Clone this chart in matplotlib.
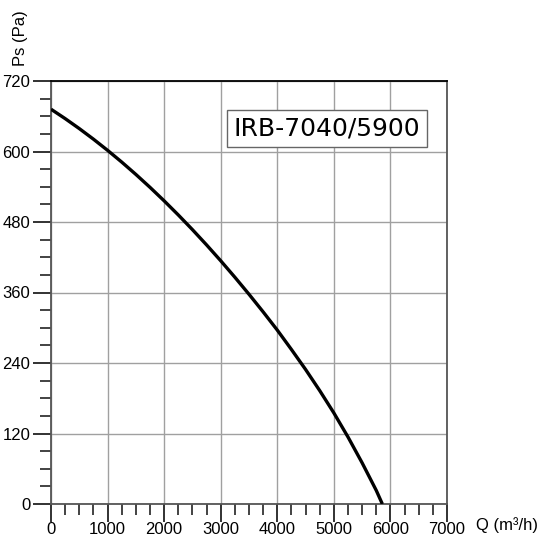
import numpy as np
import matplotlib.pyplot as plt
from matplotlib.ticker import MultipleLocator

# curve
q = [0, 250, 500, 750, 1000, 1250, 1500, 1750, 2000, 2250, 2500, 2750, 3000,
     3250, 3500, 3750, 4000, 4250, 4500, 4750, 5000, 5250, 5500, 5750, 5857]
ps = [672, 656, 639, 621, 602, 582, 561, 539, 516, 492, 467, 441, 414,
      386, 357, 327, 296, 263, 229, 193, 155, 114, 70, 23, 0]

model = "IRB-7040/5900"
x_label = "Q (m³/h)"
y_label = "Ps (Pa)"

W, H = 539, 537
fig = plt.figure(figsize=(W / 100, H / 100), dpi=100)
ax = fig.add_axes([51 / W, (H - 504) / H, 396 / W, 423 / H])

ax.plot(q, ps, color="black", lw=2.4, solid_capstyle="butt", zorder=3)

ax.set_xlim(0, 7000)
ax.set_ylim(0, 720)
ax.xaxis.set_major_locator(MultipleLocator(1000))
ax.xaxis.set_minor_locator(MultipleLocator(250))
ax.yaxis.set_major_locator(MultipleLocator(120))
ax.yaxis.set_minor_locator(MultipleLocator(30))

ax.grid(True, which="major", color="#a0a0a0", lw=1.0)
ax.set_axisbelow(True)

for side in ["left", "bottom", "right"]:
    ax.spines[side].set_color("#555555")
    ax.spines[side].set_linewidth(1.3)
ax.spines["top"].set_color("black")
ax.spines["top"].set_linewidth(1.3)

ax.tick_params(which="major", direction="out", length=13, width=1.3, color="#222222",
               labelsize=12, pad=2)
ax.tick_params(axis="x", which="major", pad=0)
ax.tick_params(which="minor", direction="out", length=8, width=1.2, color="#222222")
for lab in ax.get_xticklabels() + ax.get_yticklabels():
    lab.set_fontfamily("Liberation Sans")

fig.text(21 / W, 1 - 38 / H, y_label, rotation=90, ha="center", va="center",
         fontsize=12, family="Liberation Sans")
fig.text(507 / W, 1 - 525 / H, x_label, ha="center", va="center",
         fontsize=12, family="Liberation Sans")

fig.text(327 / W, 1 - 128.5 / H, model, ha="center", va="center", fontsize=18,
         family="DejaVu Sans",
         bbox=dict(boxstyle="square,pad=0.25", fc="white", ec="#666666", lw=1.0))

fig.savefig("out.png", dpi=100)
